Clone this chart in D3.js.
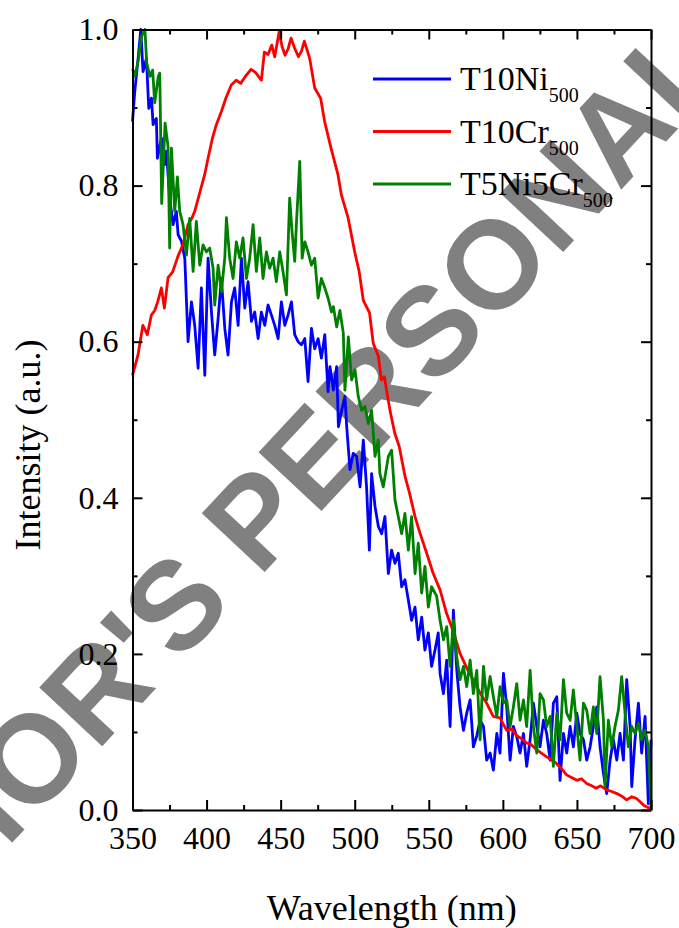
<!DOCTYPE html>
<html>
<head>
<meta charset="utf-8">
<script src="https://cdn.jsdelivr.net/npm/d3@7"></script>
<style>
  html, body { margin: 0; padding: 0; background: #fff; }
  svg { display: block; }
</style>
</head>
<body>
<svg id="chart" width="679" height="928"></svg>
<script>
// Photoluminescence-style intensity spectra (normalised), wavelength in nm.
const niWl = [350,351.5,353.8,355.6,357.1,359.4,361,362.8,363.9,366.1,366.8,369.5,371.8,372.9,375.1,377.4,379.6,380.8,383,385.3,387.5,389.8,392,394.3,396.5,398.8,401,403.3,405.5,407.8,410,412.3,414.5,416.8,419,421.3,423.5,425.8,428,430.3,432.5,434.8,437,439.3,441.5,443.8,446,448.3,450.5,452.8,455,457.3,459.5,461.8,464,466.3,468.5,470.8,473,475.3,477.5,479.8,482,483.3,485.6,487.8,489,491.2,493.4,494.6,496.8,499,501.3,503.6,505.8,508,509.9,511.4,513.7,516,518.2,520.4,522.7,524.9,527.2,529.4,531.7,533.9,536.2,538.4,540.7,542.9,545.2,547.4,549.7,551.9,554.2,556.4,557.6,559.9,562.1,564.4,566.6,568.9,571.1,573.4,575.6,577.9,580.1,582.4,584.6,586.9,589.1,591.4,593.6,595.9,598.1,600.4,602.6,604.9,607.1,609.4,611.6,613.9,616.1,618.4,620.6,622.9,625.1,627.4,629.6,631.9,634.1,636.4,638.6,640.9,643.1,645.4,647.6,649.9,652.1,654.4,656.6,658.9,661.1,663.4,665.6,667.9,670.1,672.4,674.6,676.9,679.1,681.4,683.6,685.9,687,689.2,691.5,693.7,696,697.1,698.2,699.4,700];
const niVal = [0.882,0.920,0.963,1.0,0.946,0.963,0.899,0.912,0.878,0.886,0.835,0.861,0.827,0.844,0.784,0.750,0.767,0.737,0.729,0.707,0.600,0.651,0.621,0.566,0.669,0.557,0.707,0.638,0.583,0.630,0.681,0.617,0.583,0.651,0.669,0.621,0.707,0.643,0.677,0.626,0.638,0.604,0.638,0.621,0.647,0.634,0.621,0.604,0.651,0.621,0.634,0.651,0.609,0.600,0.596,0.604,0.549,0.617,0.591,0.604,0.579,0.609,0.536,0.568,0.538,0.568,0.491,0.512,0.530,0.491,0.436,0.457,0.453,0.414,0.474,0.414,0.333,0.431,0.389,0.363,0.354,0.376,0.303,0.333,0.316,0.329,0.286,0.295,0.269,0.243,0.260,0.218,0.247,0.205,0.227,0.184,0.205,0.227,0.175,0.149,0.192,0.107,0.256,0.179,0.132,0.102,0.124,0.141,0.081,0.095,0.115,0.107,0.064,0.073,0.051,0.098,0.073,0.175,0.132,0.064,0.107,0.094,0.073,0.098,0.056,0.090,0.137,0.107,0.081,0.115,0.098,0.064,0.137,0.145,0.038,0.098,0.073,0.107,0.081,0.124,0.098,0.090,0.064,0.081,0.107,0.132,0.081,0.047,0.021,0.064,0.090,0.064,0.098,0.064,0.167,0.107,0.030,0.090,0.137,0.073,0.120,0.064,0.008,0.056,0.090];

const crWl = [350,353.7,357,360,362.7,365,367,369.5,371.5,374,377,379,381,384,387.5,390,392,395,398.7,401,404,406.6,410,413,416.7,420,423,427,430,433,437,439,441.5,444,446,449,451,453,455,457,459.5,462,464,466,469.6,473,477,479.7,484,488.7,491,495.5,500,503,505.8,510,512.5,516,518,520,523.8,527,530,534,537,540.7,544,548.6,553,557.6,562,566.5,571,575.6,580,584.6,589,593.5,598,602.6,606,609,612,616,619,623,626,629.6,633,636,640,643,646,650,653,656.6,660,663,666,670,673,677,680,683.6,687,690,693,695,699.3,700];
const crVal = [0.557,0.583,0.621,0.609,0.634,0.640,0.651,0.669,0.643,0.682,0.689,0.700,0.711,0.724,0.750,0.758,0.767,0.788,0.814,0.835,0.861,0.878,0.895,0.912,0.929,0.935,0.931,0.942,0.949,0.945,0.935,0.971,0.968,0.980,0.965,0.997,0.978,0.967,0.975,0.989,0.976,0.965,0.972,0.985,0.963,0.925,0.912,0.882,0.848,0.814,0.788,0.759,0.715,0.690,0.653,0.637,0.598,0.581,0.551,0.555,0.512,0.483,0.466,0.427,0.406,0.376,0.355,0.329,0.303,0.282,0.252,0.229,0.201,0.182,0.167,0.150,0.137,0.120,0.118,0.102,0.104,0.096,0.092,0.086,0.084,0.077,0.073,0.068,0.064,0.060,0.052,0.045,0.042,0.038,0.040,0.034,0.031,0.028,0.031,0.026,0.024,0.021,0.018,0.013,0.017,0.015,0.010,0.006,0.002,0.0];

const ncWl = [350,351.7,354,356,358.4,359.6,361.8,363.6,365,367.4,368.4,369.7,372,374,375.1,376.3,378.5,380.3,381.9,384.1,386.4,388.6,390.9,393.1,395.4,397.6,399.9,402.1,404.4,405.5,407.8,410,412.3,413.4,415.6,417.9,420.1,422.4,424.6,426.9,429.1,431.4,433.6,435.9,438.1,440.4,442.6,444.9,447.1,449.4,451.6,453.9,456.1,457.7,459.5,460.6,462.9,464.5,466.3,468.5,470.8,473,475.3,477.5,479.8,482,484.3,485.6,487.8,490,492.3,493.4,495.7,497.9,500.2,502.4,504.7,506.9,509.2,511.4,513.7,515.9,517,519.3,522.7,524.9,527.2,529.4,531.7,533.9,536.2,538.4,540.7,542.9,545.2,547.4,549.7,551.9,555.3,557.6,559.9,562.1,564.4,566.6,568.9,571.1,573.4,575.6,577.9,580.1,582.4,584.6,586.9,589.1,591.4,593.6,595.9,598.1,600.4,602.6,604.9,607.1,609.4,611.6,613.9,616.1,618.4,620.6,622.9,625.1,627.4,629.6,631.9,634.1,636.4,638.6,640.9,643.1,645.4,647.6,649.9,652.1,654.4,656.6,658.9,661.1,663.4,665.6,667.9,669,671.2,673.5,675.7,678,680.2,682.5,684.7,687,689.2,691.5,693.7,696,698.2,700];
const ncVal = [0.950,0.940,0.962,0.991,1.0,0.957,0.940,0.948,0.906,0.940,0.944,0.777,0.880,0.850,0.720,0.848,0.767,0.811,0.767,0.750,0.711,0.758,0.690,0.754,0.698,0.724,0.715,0.720,0.694,0.647,0.698,0.664,0.707,0.759,0.707,0.681,0.728,0.707,0.733,0.681,0.707,0.750,0.690,0.733,0.681,0.715,0.694,0.707,0.677,0.715,0.690,0.660,0.784,0.741,0.703,0.750,0.831,0.707,0.728,0.715,0.698,0.707,0.656,0.681,0.669,0.656,0.638,0.645,0.619,0.640,0.611,0.538,0.606,0.551,0.564,0.530,0.512,0.517,0.495,0.512,0.453,0.474,0.431,0.414,0.453,0.461,0.397,0.376,0.354,0.380,0.333,0.376,0.303,0.342,0.278,0.312,0.260,0.286,0.274,0.243,0.218,0.235,0.184,0.243,0.196,0.167,0.184,0.158,0.192,0.149,0.179,0.090,0.184,0.141,0.171,0.145,0.120,0.158,0.137,0.141,0.107,0.132,0.162,0.115,0.141,0.107,0.179,0.107,0.073,0.149,0.141,0.107,0.120,0.056,0.124,0.090,0.167,0.124,0.115,0.154,0.107,0.064,0.137,0.128,0.098,0.132,0.098,0.171,0.115,0.030,0.115,0.081,0.107,0.128,0.171,0.124,0.081,0.107,0.098,0.111,0.090,0.102,0.081,0.004];

const seriesNames = ["T10Ni", "T10Cr", "T5Ni5Cr"];
const seriesSub = ["500", "500", "500"];
const seriesColors = ["#0000ff", "#ff0000", "#008000"];
const xTicks = [350, 400, 450, 500, 550, 600, 650, 700];
const yTicks = [0.0, 0.2, 0.4, 0.6, 0.8, 1.0];
const xLabel = "Wavelength (nm)";
const yLabel = "Intensity (a.u.)";
const stampText = "AUTHOR'S PERSONAL COPY";

const svg = d3.select("#chart");
const plotLeft = 132.5, plotRight = 651, plotTop = 29.5, plotBottom = 810;
const x = d3.scaleLinear().domain([350, 700]).range([plotLeft, plotRight]);
const y = d3.scaleLinear().domain([0, 1]).range([plotBottom, plotTop]);
const serif = "'Liberation Serif', 'Times New Roman', serif";

// diagonal stamp across the page, underneath the plot;
// it is pinned by the "A" of PERSONAL near the top-right corner
const stamp = svg.append("text")
  .attr("font-family", "'Liberation Sans', Arial, sans-serif")
  .attr("font-weight", "bold")
  .attr("font-size", 125)
  .attr("fill", "#808080")
  .text(stampText);
const aOffset = stamp.node().getSubStringLength(0, stampText.indexOf("NAL") + 1);
stamp.attr("x", -aOffset)
  .attr("transform", "translate(619,192) rotate(-47)");

// data lines: blue, red, then green on top
const series = [
  { wl: niWl, val: niVal },
  { wl: crWl, val: crVal },
  { wl: ncWl, val: ncVal }
];
const line = d3.line().x(d => x(d[0])).y(d => y(d[1]));
series.forEach((s, i) => {
  const pts = d3.zip(s.wl, s.val);
  svg.append("path")
    .datum(pts)
    .attr("d", line)
    .attr("fill", "none")
    .attr("stroke", seriesColors[i])
    .attr("stroke-width", 2.8)
    .attr("stroke-linejoin", "round");
});

// axes: ticks point inward on all four sides
const xMinor = d3.range(375, 700, 50);
const yMinor = [0.1, 0.3, 0.5, 0.7, 0.9];
function axisGroup(axis, gx, gy) {
  const g = svg.append("g").attr("transform", `translate(${gx},${gy})`).call(axis);
  g.selectAll("path.domain").attr("stroke", "#000").attr("stroke-width", 2);
  g.selectAll(".tick line").attr("stroke", "#000").attr("stroke-width", 2);
  return g;
}
const bx = axisGroup(d3.axisBottom(x).tickValues(xTicks).tickSizeInner(-10).tickSizeOuter(0).tickPadding(16).tickFormat(d3.format("d")), 0, plotBottom);
bx.selectAll("text").attr("font-family", serif).attr("font-size", 32).attr("fill", "#000");
axisGroup(d3.axisBottom(x).tickValues(xMinor).tickSize(-5).tickFormat(""), 0, plotBottom).select("path.domain").remove();
axisGroup(d3.axisTop(x).tickValues(xTicks).tickSizeInner(-10).tickSizeOuter(0).tickFormat(""), 0, plotTop);
axisGroup(d3.axisTop(x).tickValues(xMinor).tickSize(-5).tickFormat(""), 0, plotTop).select("path.domain").remove();

const ly = axisGroup(d3.axisLeft(y).tickValues(yTicks).tickSizeInner(-10).tickSizeOuter(0).tickPadding(14).tickFormat(d3.format(".1f")), plotLeft, 0);
ly.selectAll("text").attr("font-family", serif).attr("font-size", 32).attr("fill", "#000");
axisGroup(d3.axisLeft(y).tickValues(yMinor).tickSize(-5).tickFormat(""), plotLeft, 0).select("path.domain").remove();
axisGroup(d3.axisRight(y).tickValues(yTicks).tickSizeInner(-10).tickSizeOuter(0).tickFormat(""), plotRight, 0);
axisGroup(d3.axisRight(y).tickValues(yMinor).tickSize(-5).tickFormat(""), plotRight, 0).select("path.domain").remove();

// axis titles
svg.append("text")
  .attr("x", (plotLeft + plotRight) / 2).attr("y", 920)
  .attr("text-anchor", "middle")
  .attr("font-family", serif).attr("font-size", 36)
  .text(xLabel);
svg.append("text")
  .attr("transform", `translate(40,${(337 + 553) / 2}) rotate(-90)`)
  .attr("text-anchor", "middle")
  .attr("font-family", serif).attr("font-size", 36)
  .text(yLabel);

// legend
const legendY = [79, 131.5, 184];
seriesNames.forEach((name, i) => {
  svg.append("line")
    .attr("x1", 373).attr("x2", 451)
    .attr("y1", legendY[i]).attr("y2", legendY[i])
    .attr("stroke", seriesColors[i]).attr("stroke-width", 3);
  const t = svg.append("text")
    .attr("x", 460).attr("y", legendY[i] + 11)
    .attr("font-family", serif).attr("font-size", 34)
    .attr("fill", "#000");
  t.append("tspan").text(name);
  t.append("tspan").attr("font-size", 20).attr("dy", 12).text(seriesSub[i]);
});
</script>
</body>
</html>
